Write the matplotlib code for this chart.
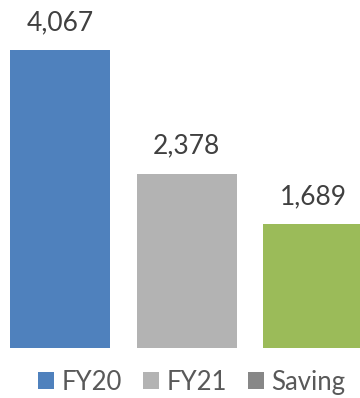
import matplotlib
matplotlib.use("Agg")
import matplotlib.pyplot as plt
from matplotlib.patches import Patch

categories = ["FY20", "FY21", "Saving"]
values = [4067, 2378, 1689]
bar_colors = ["#4F81BD", "#B3B3B3", "#9BBB59"]
legend_colors = ["#4F81BD", "#B3B3B3", "#878787"]

plt.rcParams["font.family"] = ["Lato", "DejaVu Sans"]

fig = plt.figure(figsize=(3.6, 3.98), dpi=100)
ax = fig.add_axes([0, 50 / 398, 1, 348 / 398])

xs = list(range(len(values)))
ax.bar(xs, values, width=0.789, color=bar_colors)

for x, v in zip(xs, values):
    ax.annotate(f"{v:,}", (x, v), xytext=(0, 14.4), textcoords="offset points",
                ha="center", va="baseline", fontsize=19, color="#404040")

ax.set_xlim(-0.4736, 2.368)
ax.set_ylim(0, 4067 * 348 / 298)
ax.axis("off")

handles = [Patch(facecolor=c, edgecolor="none") for c in legend_colors]
fig.legend(handles, categories, loc="center", bbox_to_anchor=(0.533, 1 - 382.5 / 398),
           ncol=3, frameon=False, fontsize=18.5, labelcolor="#595959",
           handlelength=0.62, handleheight=0.64, handletextpad=0.3,
           columnspacing=0.8, borderpad=0, borderaxespad=0)

fig.savefig("out.png", dpi=100)
